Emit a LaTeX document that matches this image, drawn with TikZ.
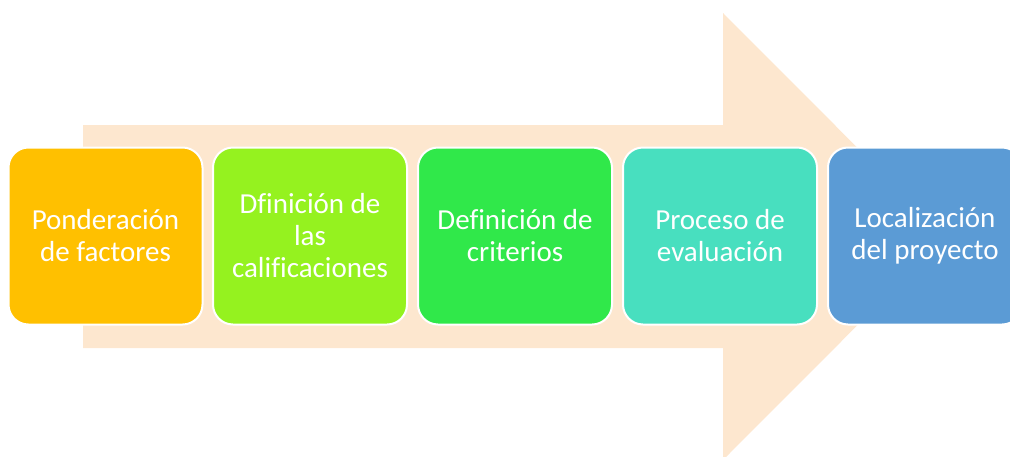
\documentclass[tikz,border=0pt]{standalone}
\usepackage{fontspec}
\setmainfont{Carlito}[Ligatures=NoCommon]
\definecolor{arrowfill}{HTML}{FDE7CF}
\definecolor{cA}{HTML}{FFC000}
\definecolor{cB}{HTML}{95F21F}
\definecolor{cC}{HTML}{30E84A}
\definecolor{cD}{HTML}{48DFBF}
\definecolor{cE}{HTML}{5B9BD5}
\begin{document}
\begin{tikzpicture}[x=1pt,y=-1pt,
  stepbox/.style={draw=white, line width=2pt, rounded corners=20pt,
    minimum width=194pt, minimum height=177pt, text=white, align=center,
    font=\fontsize{29}{32}\selectfont, inner sep=0pt}]
\useasboundingbox (0,0) rectangle (1010,456);
\clip (0,0) rectangle (1010,456);
\fill[arrowfill] (83,125) -- (723,125) -- (723,13) -- (946,236.5) -- (723,460) -- (723,348) -- (83,348) -- cycle;
\node[stepbox, fill=cA] (b1) at (105.5,236) {Ponderación\\de factores};
\node[stepbox, fill=cB] (b2) at (310,236) {Dfinición de\\las\\calificaciones};
\node[stepbox, fill=cC] (b3) at (515,236) {Definición de\\criterios};
\node[stepbox, fill=cD] (b4) at (720,236) {Proceso de\\evaluación};
\node[stepbox, fill=cE] (b5) at (925,236) {Localización\\del proyecto};
\end{tikzpicture}
\end{document}
